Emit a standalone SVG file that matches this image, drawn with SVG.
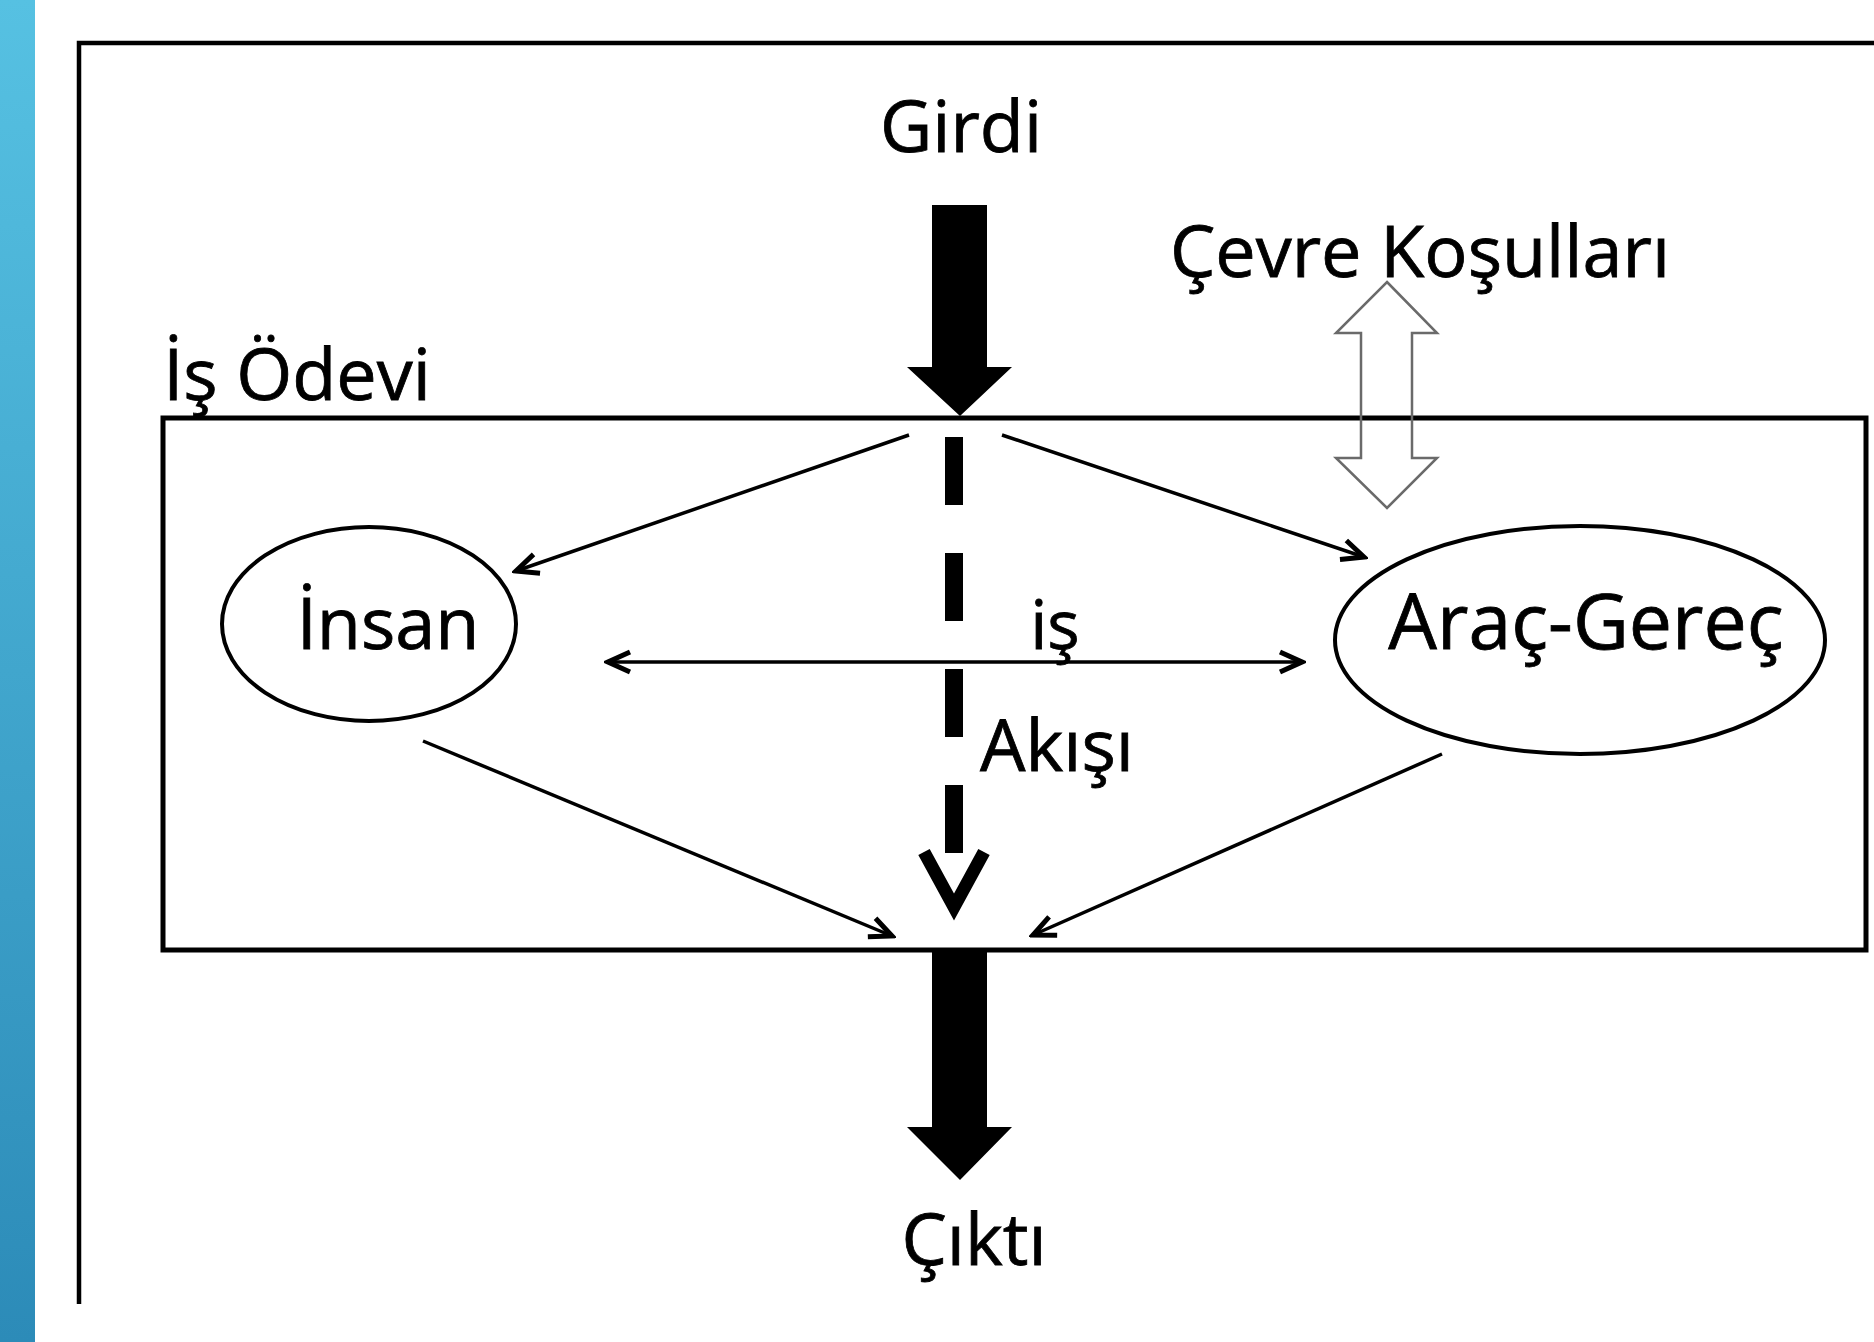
<svg xmlns="http://www.w3.org/2000/svg" width="1874" height="1342" viewBox="0 0 1874 1342">
  <style>
    .lbl { font-family: "Open Sans", "Noto Sans", "Liberation Sans", sans-serif; fill: #000; stroke: #000; stroke-width: 0.8; text-anchor: middle; }
    .thin { stroke: #000; stroke-width: 3.5; fill: none; }
    .node { stroke: #000; stroke-width: 4; fill: none; }
    .block { fill: #000; stroke: none; }
  </style>
  <defs>
    <linearGradient id="sideBar" x1="0" y1="0" x2="0" y2="1">
      <stop offset="0" stop-color="#56C1E2"/>
      <stop offset="1" stop-color="#2C8BB8"/>
    </linearGradient>
    <marker id="head" viewBox="-28 -14 32 28" refX="0" refY="0" markerWidth="32" markerHeight="28" markerUnits="userSpaceOnUse" orient="auto-start-reverse">
      <path d="M -22 -10 L 0 0 L -22 10" fill="none" stroke="#000" stroke-width="5" stroke-linejoin="miter"/>
    </marker>
  </defs>

  <!-- side accent bar -->
  <rect x="0" y="0" width="35" height="1342" fill="url(#sideBar)"/>

  <!-- outer frame (top and left edges) -->
  <path d="M 79 1304 L 79 43 L 1874 43" fill="none" stroke="#000" stroke-width="4.5"/>

  <!-- task boundary -->
  <g id="is-odevi">
    <rect x="163" y="418" width="1703" height="532" fill="none" stroke="#000" stroke-width="5"/>
    <text class="lbl" x="297" y="400" font-size="72">İş Ödevi</text>
  </g>

  <g id="girdi">
    <text class="lbl" x="961" y="152" font-size="72">Girdi</text>
  </g>

  <g id="cevre">
    <text class="lbl" x="1420" y="277" font-size="72">Çevre Koşulları</text>
  </g>

  <g id="insan">
    <ellipse class="node" cx="369" cy="624" rx="147" ry="97"/>
    <text class="lbl" x="388" y="649" font-size="72">İnsan</text>
  </g>

  <g id="arac-gerec">
    <ellipse class="node" cx="1580" cy="640" rx="245" ry="114"/>
    <text class="lbl" x="1586" y="649" font-size="77">Araç-Gereç</text>
  </g>

  <g id="is-akisi">
    <text class="lbl" x="1055" y="649" font-size="68">iş</text>
    <text class="lbl" x="1057" y="771" font-size="72">Akışı</text>
  </g>

  <g id="cikti">
    <text class="lbl" x="974" y="1265" font-size="72">Çıktı</text>
  </g>

  <g id="connectors">
    <!-- input block arrow -->
    <polygon class="block" points="932,205 987,205 987,367 1012,367 960,416 907,367 932,367"/>
    <!-- output block arrow -->
    <polygon class="block" points="932,950 987,950 987,1127 1012,1127 960,1180 907,1127 932,1127"/>
    <!-- environment exchange (hollow double arrow) -->
    <polygon points="1387,282 1437,333 1412,333 1412,458 1437,458 1387,508 1336,458 1361,458 1361,333 1336,333" fill="none" stroke="#6a6a6a" stroke-width="2.5" stroke-linejoin="miter"/>
    <!-- work flow: dashed stem with open chevron -->
    <line x1="954" y1="437" x2="954" y2="858" stroke="#000" stroke-width="18" stroke-dasharray="68 48"/>
    <polyline points="924,852 954,907 984,852" fill="none" stroke="#000" stroke-width="13" stroke-linejoin="miter"/>
    <!-- distribution to nodes -->
    <line class="thin" x1="909" y1="435" x2="516" y2="571" marker-end="url(#head)"/>
    <line class="thin" x1="1002" y1="435" x2="1364" y2="557" marker-end="url(#head)"/>
    <!-- interaction -->
    <line class="thin" x1="608" y1="662" x2="1302" y2="662" marker-start="url(#head)" marker-end="url(#head)"/>
    <!-- nodes to output -->
    <line class="thin" x1="423" y1="741" x2="892" y2="936" marker-end="url(#head)"/>
    <line class="thin" x1="1442" y1="754" x2="1033" y2="935" marker-end="url(#head)"/>
  </g>
</svg>
